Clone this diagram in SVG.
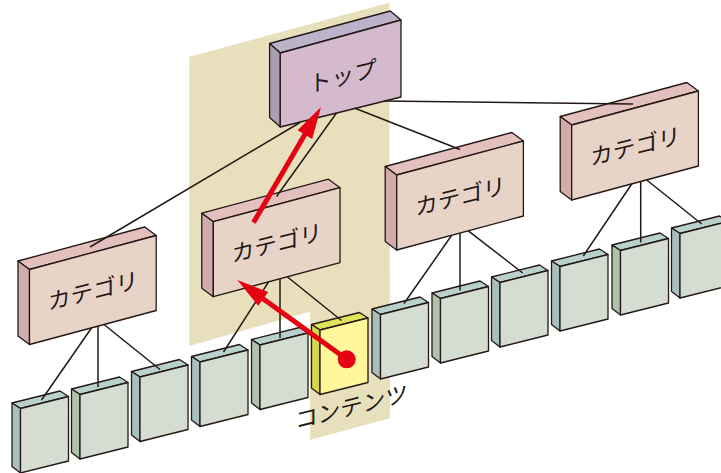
<svg xmlns="http://www.w3.org/2000/svg" width="721" height="473" viewBox="0 0 721 473">
<style>
  .f { stroke:#231815; stroke-width:1.3; stroke-linejoin:round; }
  .tf { fill:#d5bacd; } .tt { fill:#bab3c9; } .ts { fill:#a99fb5; }
  .cf { fill:#e8d3c7; } .ct { fill:#e3bfbd; } .cs { fill:#d2acab; }
  .nf { fill:#d5ddd3; } .nt { fill:#b9d1cd; } .nsb { fill:#a9bfbd; } .nsg { fill:#afc3ac; }
  .yf { fill:#fff799; } .yt { fill:#dfe35a; } .ys { fill:#d6d84b; }
  .lbl { font-family:"Noto Sans CJK JP","Noto Sans",sans-serif; font-size:22.5px; font-weight:400; fill:#231815; text-anchor:middle; }
  .conn line { stroke:#231815; stroke-width:1.5; fill:none; }
  .red { stroke:#e50012; stroke-width:5; fill:none; }
  .redf { fill:#e50012; }
</style>

<polygon id="band" points="189.3,56.7 389.3,2.7 390,418.3 310,440 310,311.7 189.3,346" fill="#e8e0bc"/>

<!-- top box -->
<g id="top" transform="translate(280.3,53)">
  <polygon class="f tt" points="0,0 -10.7,-9.5 110,-42 120.7,-33"/>
  <polygon class="f ts" points="0,0 -10.7,-9.5 -10.7,64.5 0,74"/>
  <polygon class="f tf" points="0,0 120.7,-33 120.7,44 0,74"/>
  <g transform="translate(62.5,23.5) skewY(-14)"><text class="lbl" x="0" y="8">トップ</text></g>
</g>

<!-- category boxes -->
<g id="cat1" transform="translate(29.5,269.5)">
  <polygon class="f ct" points="0,0 -11.5,-8.5 115.2,-42.5 126.7,-34"/>
  <polygon class="f cs" points="0,0 -11.5,-8.5 -11.5,66.5 0,75"/>
  <polygon class="f cf" points="0,0 126.7,-34 126.7,41 0,75"/>
  <g transform="translate(63.5,21.5) skewY(-14)"><text class="lbl" x="0" y="8">カテゴリ</text></g>
</g>
<g id="cat2" transform="translate(213.3,221.7)">
  <polygon class="f ct" points="0,0 -11.5,-8.5 115.2,-42.5 126.7,-34"/>
  <polygon class="f cs" points="0,0 -11.5,-8.5 -11.5,66.5 0,75"/>
  <polygon class="f cf" points="0,0 126.7,-34 126.7,41 0,75"/>
  <g transform="translate(63.5,21.5) skewY(-14)"><text class="lbl" x="0" y="8">カテゴリ</text></g>
</g>
<g id="cat3" transform="translate(396.7,175)">
  <polygon class="f ct" points="0,0 -11.5,-8.5 115.2,-42.5 126.7,-34"/>
  <polygon class="f cs" points="0,0 -11.5,-8.5 -11.5,66.5 0,75"/>
  <polygon class="f cf" points="0,0 126.7,-34 126.7,41 0,75"/>
  <g transform="translate(63.5,21.5) skewY(-14)"><text class="lbl" x="0" y="8">カテゴリ</text></g>
</g>
<g id="cat4" transform="translate(571.7,125)">
  <polygon class="f ct" points="0,0 -11.5,-8.5 115.2,-42.5 126.7,-34"/>
  <polygon class="f cs" points="0,0 -11.5,-8.5 -11.5,66.5 0,75"/>
  <polygon class="f cf" points="0,0 126.7,-34 126.7,41 0,75"/>
  <g transform="translate(63.5,21.5) skewY(-14)"><text class="lbl" x="0" y="8">カテゴリ</text></g>
</g>

<!-- content boxes -->
<g id="c1" transform="translate(20.5,408.5)">
  <polygon class="f nt" points="0,0 -8.5,-5.5 39.5,-17.5 48,-12"/>
  <polygon class="f nsb" points="0,0 -8.5,-5.5 -8.5,58 0,64.5"/>
  <polygon class="f nf" points="0,0 48,-12 48,52.5 0,64.5"/>
</g>
<g id="c2" transform="translate(80,394.5)">
  <polygon class="f nt" points="0,0 -8.5,-5.5 39.5,-17.5 48,-12"/>
  <polygon class="f nsg" points="0,0 -8.5,-5.5 -8.5,58 0,64.5"/>
  <polygon class="f nf" points="0,0 48,-12 48,52.5 0,64.5"/>
</g>
<g id="c3" transform="translate(140,377)">
  <polygon class="f nt" points="0,0 -8.5,-5.5 39.5,-17.5 48,-12"/>
  <polygon class="f nsb" points="0,0 -8.5,-5.5 -8.5,58 0,64.5"/>
  <polygon class="f nf" points="0,0 48,-12 48,52.5 0,64.5"/>
</g>
<g id="c4" transform="translate(200,362)">
  <polygon class="f nt" points="0,0 -8.5,-5.5 39.5,-17.5 48,-12"/>
  <polygon class="f nsb" points="0,0 -8.5,-5.5 -8.5,58 0,64.5"/>
  <polygon class="f nf" points="0,0 48,-12 48,52.5 0,64.5"/>
</g>
<g id="c5" transform="translate(260,345)">
  <polygon class="f nt" points="0,0 -8.5,-5.5 39.5,-17.5 48,-12"/>
  <polygon class="f nsg" points="0,0 -8.5,-5.5 -8.5,58 0,64.5"/>
  <polygon class="f nf" points="0,0 48,-12 48,52.5 0,64.5"/>
</g>
<g id="c6" transform="translate(320,330)">
  <polygon class="f yt" points="0,0 -8.5,-5.5 39.5,-17.5 48,-12"/>
  <polygon class="f ys" points="0,0 -8.5,-5.5 -8.5,58 0,64.5"/>
  <polygon class="f yf" points="0,0 48,-12 48,52.5 0,64.5"/>
</g>
<g id="c7" transform="translate(380.5,314.5)">
  <polygon class="f nt" points="0,0 -8.5,-5.5 39.5,-17.5 48,-12"/>
  <polygon class="f nsb" points="0,0 -8.5,-5.5 -8.5,58 0,64.5"/>
  <polygon class="f nf" points="0,0 48,-12 48,52.5 0,64.5"/>
</g>
<g id="c8" transform="translate(440.5,298.5)">
  <polygon class="f nt" points="0,0 -8.5,-5.5 39.5,-17.5 48,-12"/>
  <polygon class="f nsg" points="0,0 -8.5,-5.5 -8.5,58 0,64.5"/>
  <polygon class="f nf" points="0,0 48,-12 48,52.5 0,64.5"/>
</g>
<g id="c9" transform="translate(500,282.5)">
  <polygon class="f nt" points="0,0 -8.5,-5.5 39.5,-17.5 48,-12"/>
  <polygon class="f nsb" points="0,0 -8.5,-5.5 -8.5,58 0,64.5"/>
  <polygon class="f nf" points="0,0 48,-12 48,52.5 0,64.5"/>
</g>
<g id="c10" transform="translate(560,266.5)">
  <polygon class="f nt" points="0,0 -8.5,-5.5 39.5,-17.5 48,-12"/>
  <polygon class="f nsb" points="0,0 -8.5,-5.5 -8.5,58 0,64.5"/>
  <polygon class="f nf" points="0,0 48,-12 48,52.5 0,64.5"/>
</g>
<g id="c11" transform="translate(620.5,250.5)">
  <polygon class="f nt" points="0,0 -8.5,-5.5 39.5,-17.5 48,-12"/>
  <polygon class="f nsg" points="0,0 -8.5,-5.5 -8.5,58 0,64.5"/>
  <polygon class="f nf" points="0,0 48,-12 48,52.5 0,64.5"/>
</g>
<g id="c12" transform="translate(680,233.5)">
  <polygon class="f nt" points="0,0 -8.5,-5.5 39.5,-17.5 48,-12"/>
  <polygon class="f nsb" points="0,0 -8.5,-5.5 -8.5,58 0,64.5"/>
  <polygon class="f nf" points="0,0 48,-12 48,52.5 0,64.5"/>
</g>

<!-- connectors -->
<g id="connectors" class="conn">
  <line x1="300" y1="122.5" x2="90" y2="247"/>
  <line x1="336.5" y1="113" x2="276.5" y2="196.5"/>
  <line x1="355" y1="108.3" x2="460" y2="149.5"/>
  <line x1="384" y1="101" x2="633" y2="104"/>
  <line x1="91.5" y1="328" x2="41.5" y2="400"/>
  <line x1="98" y1="326.2" x2="98" y2="387"/>
  <line x1="104" y1="324.5" x2="160" y2="369.5"/>
  <line x1="268.5" y1="282" x2="223.5" y2="352"/>
  <line x1="280" y1="279" x2="280" y2="338"/>
  <line x1="287.5" y1="277" x2="341.5" y2="320.5"/>
  <line x1="451.7" y1="235.3" x2="404" y2="303.5"/>
  <line x1="460" y1="233" x2="460" y2="290.5"/>
  <line x1="468.3" y1="230.8" x2="522.7" y2="273"/>
  <line x1="631.7" y1="184" x2="583.3" y2="256"/>
  <line x1="640.7" y1="181.5" x2="640.7" y2="242.5"/>
  <line x1="646.7" y1="180" x2="701.7" y2="224"/>
</g>

<!-- red arrows -->
<g id="arrows">
  <line class="red" x1="253.5" y1="222.5" x2="306" y2="132.5"/>
  <polygon class="redf" points="321,107 297.6,130.3 312.2,138.9"/>
  <line class="red" x1="346.7" y1="359.3" x2="261" y2="297.2"/>
  <polygon class="redf" points="237.3,280 268.2,291.9 258.2,305.7"/>
  <circle class="redf" cx="346.7" cy="359.3" r="9"/>
</g>

<g id="label" transform="translate(351.5,407) skewY(-14)">
  <text class="lbl" x="0" y="8">コンテンツ</text>
</g>
</svg>
